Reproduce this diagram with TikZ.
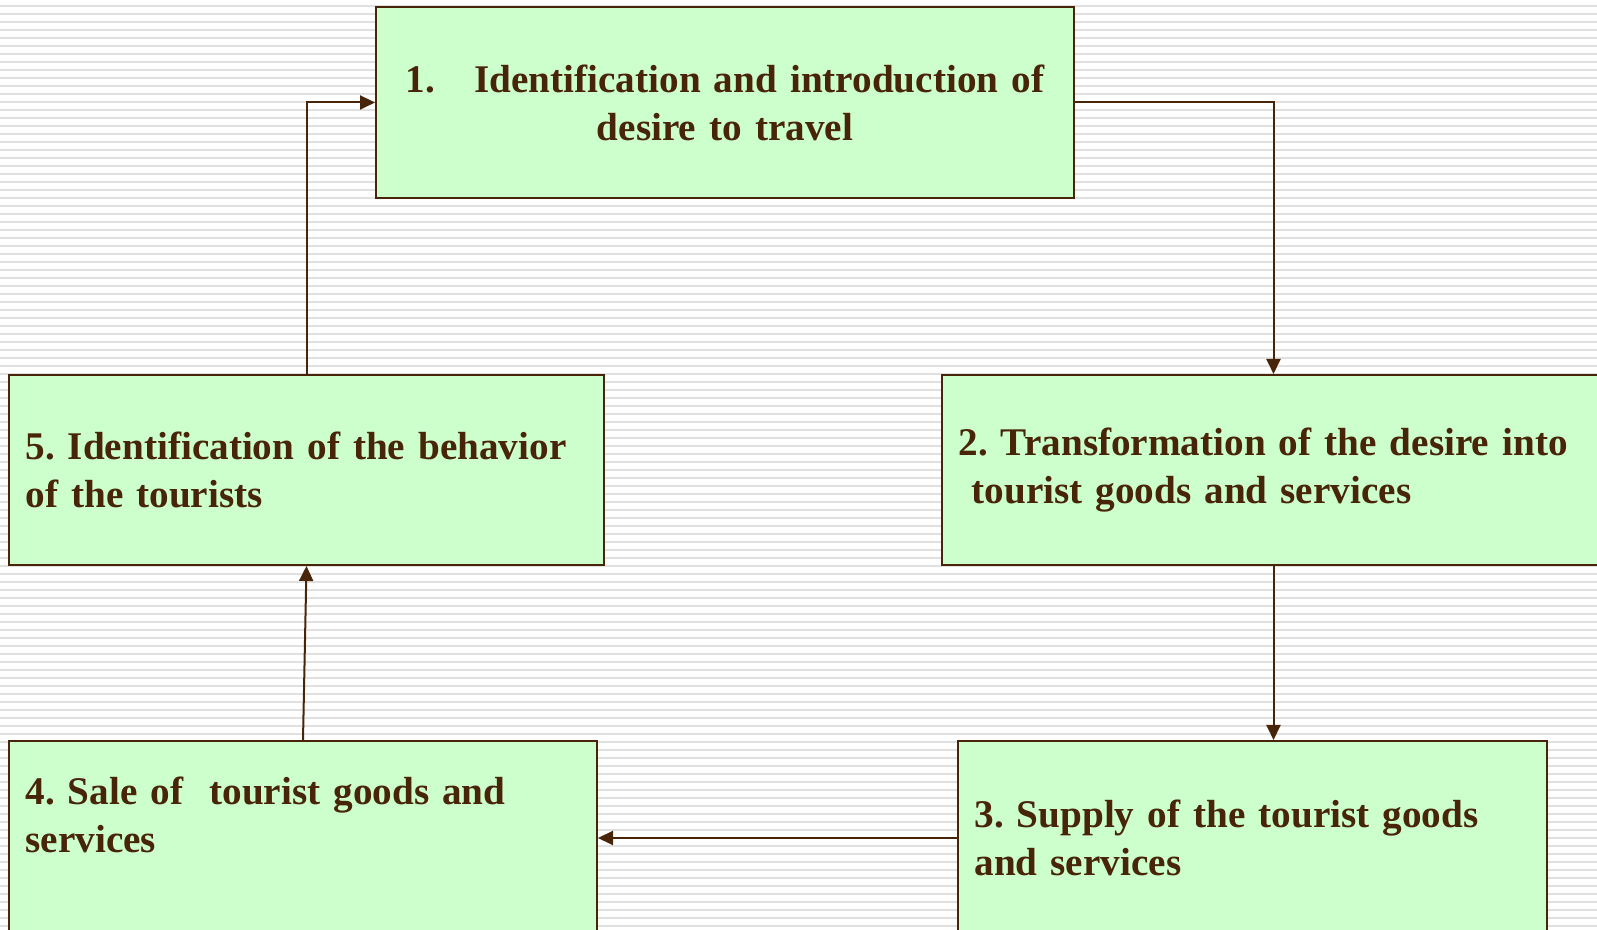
\documentclass[tikz,border=0pt]{standalone}
\usepackage{fontspec}
\setmainfont{Liberation Serif}
\definecolor{BoxLine}{RGB}{72,36,8}
\definecolor{BoxFill}{RGB}{204,255,204}
\definecolor{RuleGray}{RGB}{224,224,224}
\usepackage{tikz}
\usetikzlibrary{arrows.meta}
\usetikzlibrary{positioning}
\usetikzlibrary{calc}
\frenchspacing
\tikzstyle{stage} = [draw=BoxLine, fill=BoxFill, line width=0.2mm, inner xsep=1.65mm, inner ysep=0mm, text=BoxLine, align=left, font=\fontsize{11.15}{13.66}\selectfont\bfseries]
\tikzstyle{arrow} = [line width=0.2mm, BoxLine, -{Triangle[length=1.5mm,width=1.4mm]}]

\begin{document}
\begin{tikzpicture}[x=0.1mm, y=-0.1mm]
    \path[use as bounding box] (0,0) rectangle (1597,930);
    \clip (0,0) rectangle (1597,930);
    % ruled background
    \fill[white] (0,0) rectangle (1597,930);
    \foreach \y in {6,14,...,926}
        \draw[RuleGray, line width=0.25mm] (0,\y) -- (1597,\y);

    % the five stages
    \node[stage, align=center, text width=66.5mm, minimum height=19.1mm] (desire) at (725,102.5)
        {1.\quad Identification and introduction of\\desire to travel};
    \node[stage, text width=63mm, minimum height=19mm] (transform) at (1273.5,470)
        {2. Transformation of the desire into\\\ tourist goods and services};
    \node[stage, text width=55.6mm, minimum height=19.4mm] (supply) at (1252.5,838)
        {3. Supply of the tourist goods\\and services};
    \node[stage, text width=55.5mm, minimum height=19.4mm] (sale) at (303,838)
        {4. Sale of~~tourist goods and\\services\\[-0.2mm]\mbox{}};
    \node[stage, text width=56.2mm, minimum height=19mm] (behavior) at (306.5,470)
        {5. Identification of the behavior\\of the tourists};

    % cycle
    \draw[arrow] (desire.east) -| (transform.north);
    \draw[arrow] (transform.south) -- (transform.south |- supply.north);
    \draw[arrow] (supply.west) -- (sale.east);
    \draw[arrow] (sale.north) -- (behavior.south);
    \draw[arrow] (behavior.north) |- (desire.west);
\end{tikzpicture}
\end{document}
